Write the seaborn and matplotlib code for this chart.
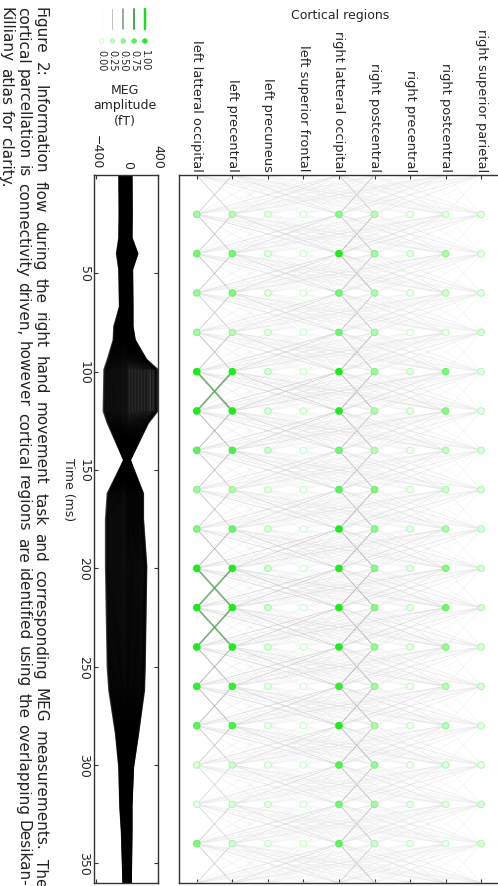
import numpy as np
import pandas as pd
import matplotlib
matplotlib.use("Agg")
import matplotlib.pyplot as plt
from matplotlib.collections import LineCollection
from matplotlib.colors import LinearSegmentedColormap
import seaborn as sns

# Cortical regions, index 0 is the left-most column
regions = ["left latteral occipital", "left precentral", "left precuneus",
           "left superior frontal", "right latteral occipital", "right postcentral",
           "right precentral", "right postcentral", "right superior parietal"]

# Node rows (ms) and node activation level per region
node_times = [20, 40, 60, 80, 100, 120, 140, 160, 180, 200, 220, 240, 260, 280, 300, 320, 340]
node_level = [
    [0.40, 0.30, 0.10, 0.00, 0.50, 0.30, 0.05, 0.10, 0.10],
    [0.60, 0.60, 0.10, 0.00, 1.00, 0.40, 0.10, 0.35, 0.10],
    [0.45, 0.55, 0.10, 0.00, 0.60, 0.35, 0.05, 0.20, 0.10],
    [0.40, 0.30, 0.10, 0.00, 0.60, 0.35, 0.00, 0.05, 0.15],
    [1.00, 1.00, 0.15, 0.00, 1.00, 0.45, 0.10, 0.55, 0.10],
    [1.00, 1.00, 0.15, 0.05, 1.00, 0.35, 0.10, 0.50, 0.10],
    [0.70, 0.80, 0.20, 0.00, 0.60, 0.30, 0.05, 0.25, 0.15],
    [0.40, 0.35, 0.10, 0.00, 0.70, 0.55, 0.05, 0.20, 0.15],
    [0.55, 0.65, 0.15, 0.00, 1.00, 0.50, 0.10, 0.35, 0.15],
    [1.00, 1.00, 0.20, 0.00, 1.00, 0.50, 0.10, 0.50, 0.15],
    [1.00, 1.00, 0.20, 0.00, 1.00, 0.50, 0.10, 0.60, 0.15],
    [1.00, 1.00, 0.15, 0.00, 1.00, 0.45, 0.10, 0.45, 0.15],
    [0.90, 0.90, 0.10, 0.00, 0.90, 0.40, 0.05, 0.30, 0.15],
    [0.70, 0.80, 0.05, 0.00, 1.00, 0.35, 0.05, 0.30, 0.10],
    [0.15, 0.20, 0.05, 0.00, 0.75, 0.45, 0.05, 0.15, 0.10],
    [0.10, 0.15, 0.10, 0.00, 0.60, 0.40, 0.10, 0.10, 0.15],
    [0.55, 0.20, 0.05, 0.00, 0.70, 0.20, 0.05, 0.05, 0.15],
]

# Information flow between consecutive time steps
edge_times = [0, 20, 40, 60, 80, 100, 120, 140, 160, 180, 200, 220, 240, 260, 280, 300, 320, 340, 360]
flow_weight = [
    [0.00, 0.40, 0.10, 0.06, 0.22, 0.12, 0.04, 0.10, 0.06],
    [0.40, 0.00, 0.08, 0.06, 0.25, 0.12, 0.04, 0.20, 0.08],
    [0.10, 0.08, 0.00, 0.04, 0.12, 0.08, 0.04, 0.06, 0.04],
    [0.06, 0.06, 0.04, 0.00, 0.10, 0.08, 0.04, 0.04, 0.04],
    [0.22, 0.25, 0.12, 0.10, 0.00, 0.45, 0.08, 0.22, 0.18],
    [0.12, 0.12, 0.08, 0.08, 0.45, 0.00, 0.06, 0.12, 0.15],
    [0.04, 0.04, 0.04, 0.04, 0.08, 0.06, 0.00, 0.06, 0.04],
    [0.10, 0.20, 0.06, 0.04, 0.22, 0.12, 0.06, 0.00, 0.08],
    [0.06, 0.08, 0.04, 0.04, 0.18, 0.15, 0.04, 0.08, 0.00],
]
strong_t = [100, 100, 200, 200, 220, 220]
strong_src = [0, 1, 0, 1, 0, 1]
strong_dst = [1, 0, 1, 0, 1, 0]
strong_w = [0.72, 0.72, 0.68, 0.68, 0.66, 0.66]

# MEG envelope (fT)
meg_times = [0, 20, 32, 40, 48, 67, 77, 84, 94, 99, 120, 126, 145, 162, 175, 199, 250, 262, 284, 301, 321, 334, 362]
meg_upper = [52, 55, 52, 129, 60, 65, 65, 95, 245, 387, 387, 267, 30, 202, 202, 245, 224, 215, 138, 73, 52, 52, 43]
meg_lower = [-99, -95, -99, -129, -99, -90, -163, -172, -249, -292, -301, -249, -34, -249, -271, -271, -249, -228, -142, -99, -86, -65, -43]
channel_gain = [-1.00, -0.96, -0.91, -0.87, -0.82, -0.77, -0.73, -0.68, -0.63, -0.59, -0.54,
                -0.49, -0.45, -0.40, -0.35, -0.31, -0.26, -0.21, -0.16, -0.11, -0.06, -0.02,
                0.03, 0.08, 0.13, 0.18, 0.23, 0.28, 0.33, 0.38, 0.43, 0.48, 0.53, 0.58,
                0.63, 0.68, 0.73, 0.79, 0.84, 0.89, 0.94, 0.98, 1.00]

time_ticks = [50, 100, 150, 200, 250, 300, 350]
amp_ticks = [-400, 0, 400]
legend_levels = [0.00, 0.25, 0.50, 0.75, 1.00]

caption_lines = [
    "Figure 2: Information flow during the right hand movement task and corresponding MEG measurements. The",
    "cortical parcellation is connectivity driven, however cortical regions are identified using the overlapping Desikan-",
    "Killiany atlas for clarity.",
]

sns.set_style("white")
plt.rcParams["font.family"] = ["DejaVu Sans"]
plt.rcParams["font.size"] = 9

W, H = 498, 887
fig = plt.figure(figsize=(W / 100, H / 100), dpi=100)

def px_axes(x0, y0, x1, y1):
    return fig.add_axes([x0 / W, 1 - y1 / H, (x1 - x0) / W, (y1 - y0) / H])

node_cmap = LinearSegmentedColormap.from_list("nodes", [(1, 1, 1), (0.1, 0.93, 0.1)])
edge_cmap = LinearSegmentedColormap.from_list(
    "edges", [(0.0, (0.95, 0.95, 0.95)), (0.25, (0.76, 0.76, 0.76)), (0.45, (0.55, 0.55, 0.55)),
              (0.5, (0.45, 0.58, 0.45)), (0.75, (0.3, 0.66, 0.3)), (1.0, (0.1, 0.88, 0.1))])

spine_col = "#333333"

# ---- regions panel ----
ax_reg = px_axes(179, 176, 499, 884)
levels = np.array(node_level)
level_at = {t: levels[k] for k, t in enumerate(node_times)}

segs, cols, widths = [], [], []
for k in range(len(edge_times) - 1):
    t0, t1 = edge_times[k], edge_times[k + 1]
    for i in range(len(regions)):
        for j in range(len(regions)):
            if i == j:
                continue
            a = level_at[t0][i] if t0 in level_at else 0.3
            b = level_at[t1][j] if t1 in level_at else 0.3
            w = min(flow_weight[i][j] * (0.55 + 0.3 * (a + b)), 0.45)
            segs.append([(i, t0), (j, t1)])
            cols.append(edge_cmap(w))
            widths.append((0.5 + 1.0 * w) * 0.72)
for t0, i, j, w in zip(strong_t, strong_src, strong_dst, strong_w):
    segs.append([(i, t0), (j, t0 + 20)])
    cols.append(edge_cmap(w))
    widths.append((0.5 + 2.0 * w) * 0.72)
lc = LineCollection(segs, colors=cols, linewidths=widths, alpha=0.65, zorder=1)
ax_reg.add_collection(lc)

df_nodes = pd.DataFrame([(r, t, node_level[k][r]) for k, t in enumerate(node_times)
                         for r in range(len(regions))], columns=["region", "time", "level"])
sns.scatterplot(data=df_nodes, x="region", y="time", hue="level", palette=node_cmap,
                hue_norm=(0, 1), s=22, linewidth=0.8, legend=False, ax=ax_reg, zorder=3)
ax_reg.collections[-1].set_edgecolors(node_cmap(0.22 + 0.78 * df_nodes["level"].values))

ax_reg.set_xlim(-0.5, 8.5)
ax_reg.set_ylim(360, 0)
ax_reg.set_xticks(range(len(regions)))
ax_reg.set_xticklabels(regions, rotation=-90)
ax_reg.xaxis.tick_top()
ax_reg.tick_params(axis="x", which="both", direction="in", length=3, top=True, bottom=True,
                   labeltop=True, labelbottom=False, pad=3, color=spine_col, labelsize=9.4)
ax_reg.set_yticks([])
ax_reg.set_xlabel("")
ax_reg.set_ylabel("")
for s in ax_reg.spines.values():
    s.set_color(spine_col)
    s.set_linewidth(1.0)

# ---- MEG panel ----
ax_meg = px_axes(94, 176, 158, 884)
rows = []
for c, g in enumerate(channel_gain):
    env = meg_upper if g >= 0 else meg_lower
    for t, e in zip(meg_times, env):
        rows.append((c, t, abs(g) * e))
df_meg = pd.DataFrame(rows, columns=["channel", "time", "amp"])
sns.lineplot(data=df_meg, x="amp", y="time", units="channel", estimator=None, orient="y",
             color="black", linewidth=2.0, alpha=0.7, ax=ax_meg, legend=False)
ax_meg.set_xlim(-430, 400)
ax_meg.set_ylim(360, 0)
ax_meg.set_xticks(amp_ticks)
ax_meg.set_xticklabels(["\u2212400", "0", "400"], rotation=-90)
ax_meg.xaxis.tick_top()
ax_meg.tick_params(axis="x", direction="in", length=3, top=True, bottom=True,
                   labeltop=True, labelbottom=False, pad=5, color=spine_col, labelsize=9)
ax_meg.set_yticks(time_ticks)
ax_meg.set_yticklabels([str(t) for t in time_ticks], rotation=-90, va="center")
ax_meg.tick_params(axis="y", direction="in", length=3, left=True, right=True,
                   pad=2.5, color=spine_col, labelsize=9)
ax_meg.set_xlabel("")
ax_meg.set_ylabel("")
for s in ax_meg.spines.values():
    s.set_color(spine_col)
    s.set_linewidth(1.0)

fig.text(68 / W, 1 - 490 / H, "Time (ms)", rotation=-90, ha="center", va="center", fontsize=9)
fig.text(125 / W, 1 - 106 / H, "MEG\namplitude\n(fT)", ha="center", va="center",
         multialignment="center", fontsize=9)
fig.text(340 / W, 1 - 16 / H, "Cortical regions", ha="center", va="center", fontsize=9)

# ---- legend (line width / node colour scale) ----
ax_leg = px_axes(95, 0, 152, 80)
ax_leg.axis("off")
for i, lv in enumerate(legend_levels):
    ax_leg.plot([i, i], [10, 30], color=edge_cmap(lv), lw=(0.5 + 2.0 * lv) * 0.72)
df_leg = pd.DataFrame({"x": range(len(legend_levels)), "y": [42] * len(legend_levels),
                       "level": legend_levels})
sns.scatterplot(data=df_leg, x="x", y="y", hue="level", palette=node_cmap, hue_norm=(0, 1),
                s=10, linewidth=0.6, legend=False, ax=ax_leg)
ax_leg.collections[-1].set_edgecolors(node_cmap(0.22 + 0.78 * np.array(legend_levels)))
for i, lv in enumerate(legend_levels):
    ax_leg.text(i, 50, f"{lv:.2f}", rotation=-90, ha="center", va="top", fontsize=7)
ax_leg.set_xlim(-0.62, 4.66)
ax_leg.set_ylim(80, 0)

# ---- caption, justified like the page ----
fig.canvas.draw()
renderer = fig.canvas.get_renderer()
caption_x = [40, 23, 6]
y_start, y_end = 7, 887
for n, (line, xc) in enumerate(zip(caption_lines, caption_x)):
    words = line.split()
    texts = [fig.text(0, 0, w, rotation=-90, ha="center", va="top", fontsize=11, color="#222222")
             for w in words]
    lengths = [t.get_window_extent(renderer).height for t in texts]
    if n < len(caption_lines) - 1:
        gap = (y_end - y_start - sum(lengths)) / (len(words) - 1)
    else:
        gap = 5.5
    y = y_start
    for t, L in zip(texts, lengths):
        t.set_position((xc / W, 1 - y / H))
        y += L + gap

fig.savefig("out.png", dpi=100)
